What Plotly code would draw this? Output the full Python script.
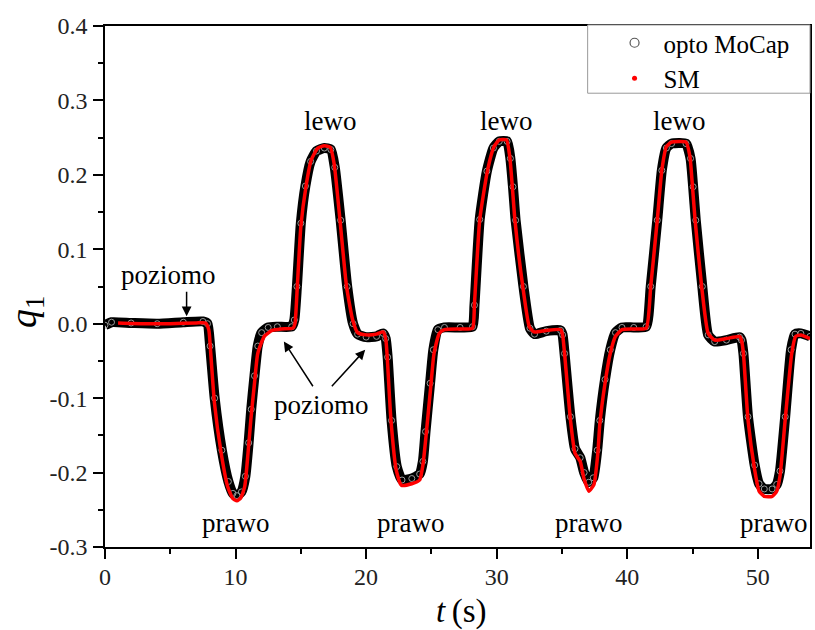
import plotly.graph_objects as go

# ---- data ----
opto_t = [0.0, 0.5, 2.0, 4.0, 6.0, 7.5, 7.85, 8.05, 8.4, 8.95, 9.45, 9.8, 10.1, 10.45, 10.75, 11.0, 11.2, 11.45, 11.7, 12.0,
          12.5, 13.2, 14.3, 14.5, 14.7, 15.0, 15.35, 15.75, 16.2, 16.8, 17.3, 17.6, 18.05, 18.55, 19.0, 19.35, 20.0, 20.8,
          21.3, 21.5, 21.65, 21.95, 22.35, 22.75, 23.5, 24.1, 24.35, 24.55, 24.9, 25.15, 25.5, 26.0, 27.2, 28.15, 28.3,
          28.7, 29.25, 29.75, 30.2, 30.8, 31.05, 31.25, 31.45, 32.05, 32.55, 32.9, 33.8, 34.9, 35.05, 35.2, 35.65, 36.0,
          36.4, 36.7, 37.05, 37.4, 37.7, 37.9, 38.3, 38.7, 39.1, 39.6, 40.5, 41.45, 41.8, 42.3, 42.65, 43.0, 43.4, 44.5,
          44.85, 45.05, 45.25, 45.75, 46.2, 46.7, 47.6, 48.6, 48.75, 48.9, 49.25, 49.76, 50.1, 50.5, 51.1, 51.45, 51.7,
          52.1, 52.55, 52.85, 53.3, 54.0]
opto_q = [-0.002, 0.002, 0.001, 0.0, 0.002, 0.003, 0.0, -0.03, -0.10, -0.17, -0.212, -0.228, -0.231, -0.226, -0.205, -0.16,
          -0.115, -0.07, -0.03, -0.012, -0.005, -0.004, -0.004, 0.005, 0.05, 0.135, 0.185, 0.218, 0.232, 0.236, 0.234, 0.21,
          0.139, 0.05, 0.0, -0.014, -0.018, -0.017, -0.013, -0.02, -0.045, -0.13, -0.192, -0.21, -0.208, -0.202, -0.185,
          -0.145, -0.08, -0.035, -0.008, -0.005, -0.005, -0.004, 0.025, 0.14, 0.205, 0.236, 0.245, 0.245, 0.222, 0.184,
          0.139, 0.05, -0.006, -0.014, -0.01, -0.009, -0.015, -0.04, -0.125, -0.168, -0.18, -0.2, -0.213, -0.207, -0.17,
          -0.13, -0.075, -0.035, -0.012, -0.005, -0.005, -0.004, 0.05, 0.139, 0.206, 0.236, 0.242, 0.242, 0.222, 0.184,
          0.139, 0.05, -0.015, -0.024, -0.022, -0.018, -0.022, -0.04, -0.125, -0.19, -0.215, -0.222, -0.222, -0.216,
          -0.198, -0.125, -0.035, -0.014, -0.013, -0.017]

sm_t = [1.0, 3.0, 5.0, 7.0, 7.7, 7.95, 8.1, 8.38, 8.9, 9.4, 9.8, 10.1, 10.4, 10.7, 10.95, 11.17, 11.45, 11.7, 12.2, 12.8,
        13.5, 14.4, 14.55, 14.7, 15.0, 15.4, 15.8, 16.3, 16.8, 17.25, 17.55, 18.0, 18.5, 18.97, 19.35, 20.0, 20.8, 21.3,
        21.5, 21.6, 21.9, 22.3, 22.7, 23.5, 24.1, 24.35, 24.6, 24.96, 25.2, 25.6, 26.0, 27.2, 28.15, 28.3, 28.7, 29.3,
        29.8, 30.2, 30.75, 31.0, 31.2, 31.4, 32.0, 32.5, 32.85, 33.8, 34.9, 35.05, 35.2, 35.65, 36.0, 36.4, 36.7, 37.06,
        37.45, 37.75, 37.9, 38.3, 38.7, 39.1, 39.6, 40.5, 41.45, 41.8, 42.3, 42.65, 43.0, 43.4, 44.5, 44.8, 45.0, 45.2,
        45.7, 46.2, 46.7, 47.6, 48.6, 48.75, 48.9, 49.25, 49.76, 50.1, 50.5, 51.1, 51.45, 51.7, 52.1, 52.6, 52.9, 53.3,
        54.0]
sm_q = [0.001, 0.0, 0.0, 0.001, 0.001, -0.008, -0.04, -0.106, -0.174, -0.219, -0.235, -0.238, -0.234, -0.219, -0.175,
        -0.129, -0.08, -0.04, -0.017, -0.009, -0.007, -0.006, 0.0, 0.04, 0.13, 0.185, 0.22, 0.236, 0.239, 0.237, 0.215,
        0.139, 0.05, 0.005, -0.012, -0.015, -0.014, -0.011, -0.02, -0.04, -0.129, -0.196, -0.217, -0.215, -0.21, -0.19,
        -0.149, -0.083, -0.04, -0.013, -0.008, -0.007, -0.006, 0.027, 0.139, 0.206, 0.238, 0.247, 0.247, 0.225, 0.184,
        0.139, 0.05, -0.004, -0.011, -0.009, -0.008, -0.015, -0.04, -0.129, -0.174, -0.185, -0.209, -0.225, -0.216,
        -0.174, -0.135, -0.08, -0.04, -0.017, -0.008, -0.007, -0.006, 0.05, 0.139, 0.206, 0.238, 0.244, 0.244, 0.225,
        0.184, 0.139, 0.05, -0.013, -0.022, -0.02, -0.017, -0.022, -0.04, -0.129, -0.196, -0.225, -0.232, -0.232, -0.225,
        -0.205, -0.129, -0.04, -0.017, -0.015, -0.02]

x_tickvals = [0, 10, 20, 30, 40, 50]
x_ticktext = ["0", "10", "20", "30", "40", "50"]
y_tickvals = [-0.3, -0.2, -0.1, 0.0, 0.1, 0.2, 0.3, 0.4]
y_ticktext = ["-0.3", "-0.2", "-0.1", "0.0", "0.1", "0.2", "0.3", "0.4"]

label_text = ["lewo", "lewo", "lewo", "prawo", "prawo", "prawo", "prawo", "poziomo", "poziomo"]
label_t = [17.2, 30.7, 44.0, 10.0, 23.4, 37.07, 51.2, 4.87, 16.6]
label_q = [0.272, 0.272, 0.272, -0.268, -0.268, -0.268, -0.268, 0.065, -0.109]

# arrows: (tip_t, tip_q, tail_t, tail_q)
arrow_tip_t = [6.25, 13.7, 19.93]
arrow_tip_q = [0.010, -0.024, -0.035]
arrow_tail_t = [6.25, 16.0, 17.27]
arrow_tail_q = [0.045, -0.086, -0.086]

FONT = "Liberation Serif, Times New Roman, serif"

fig = go.Figure()

# opto MoCap band
fig.add_trace(go.Scatter(
    x=opto_t, y=opto_q, mode="lines+markers",
    line=dict(color="black", width=10, shape="spline", smoothing=0.5),
    marker=dict(symbol="circle-open", size=6, color="#9a9a9a", line=dict(width=1)),
    showlegend=False, hoverinfo="skip"))
# SM
fig.add_trace(go.Scatter(
    x=sm_t, y=sm_q, mode="lines",
    line=dict(color="#ff0000", width=3.5, shape="spline", smoothing=0.5),
    showlegend=False, hoverinfo="skip"))

# legend entries
fig.add_trace(go.Scatter(x=[None], y=[None], mode="markers", name="opto MoCap",
                         marker=dict(symbol="circle-open", size=9, color="#555555", line=dict(width=1.2))))
fig.add_trace(go.Scatter(x=[None], y=[None], mode="markers", name="SM",
                         marker=dict(symbol="circle", size=5, color="#ff0000")))

for txt, tx, qy in zip(label_text, label_t, label_q):
    fig.add_annotation(x=tx, y=qy, xref="x", yref="y", text=txt, showarrow=False,
                       font=dict(family=FONT, size=27, color="black"),
                       xanchor="center", yanchor="middle")

for tt, tq, at, aq in zip(arrow_tip_t, arrow_tip_q, arrow_tail_t, arrow_tail_q):
    fig.add_annotation(x=tt, y=tq, ax=at, ay=aq, xref="x", yref="y", axref="x", ayref="y",
                       text="", showarrow=True, arrowhead=2, arrowsize=1.3, arrowwidth=1.5,
                       arrowcolor="black")

# axis titles
fig.add_annotation(x=-0.112, y=0.451, xref="paper", yref="paper", text="<i>q</i><sub>1</sub>",
                   showarrow=False, textangle=-90, font=dict(family=FONT, size=38, color="black"),
                   xanchor="center", yanchor="middle")
fig.add_annotation(x=0.505, y=-0.123, xref="paper", yref="paper", text="<i>t</i>\u2009(s)",
                   showarrow=False, font=dict(family=FONT, size=33, color="black"),
                   xanchor="center", yanchor="middle")

# legend frame (white box over plot frame)
fig.add_shape(type="rect", xref="paper", yref="paper", x0=0.6846, x1=1.0, y0=0.871, y1=1.002,
              line=dict(color="#999999", width=1), fillcolor="white", layer="above")

axis_common = dict(showgrid=False, zeroline=False, showline=True, linecolor="black", linewidth=1.5,
                   mirror=True, ticks="outside", ticklen=10, tickwidth=1.5, tickcolor="black",
                   tickfont=dict(family=FONT, size=24, color="#222"))

fig.update_xaxes(range=[0, 54], tickvals=x_tickvals, ticktext=x_ticktext, ticklabelstandoff=-3,
                 minor=dict(dtick=5, tick0=0, ticklen=5, tickwidth=1.5, tickcolor="black", ticks="outside"),
                 **axis_common)
fig.update_yaxes(range=[-0.3, 0.4], tickvals=y_tickvals, ticktext=y_ticktext, ticklabelstandoff=1,
                 minor=dict(dtick=0.05, tick0=0, ticklen=5, tickwidth=1.5, tickcolor="black", ticks="outside"),
                 **axis_common)

fig.update_layout(
    width=815, height=630,
    margin=dict(l=105, r=3, t=26, b=83),
    plot_bgcolor="white", paper_bgcolor="white",
    font=dict(family=FONT, color="black"),
    legend=dict(x=0.710, y=1.0115, xanchor="left", yanchor="top",
                borderwidth=0, bgcolor="rgba(0,0,0,0)",
                font=dict(family=FONT, size=25, color="black"),
                itemwidth=48, tracegroupgap=0),
    showlegend=True,
)

fig.write_html("out.html")
